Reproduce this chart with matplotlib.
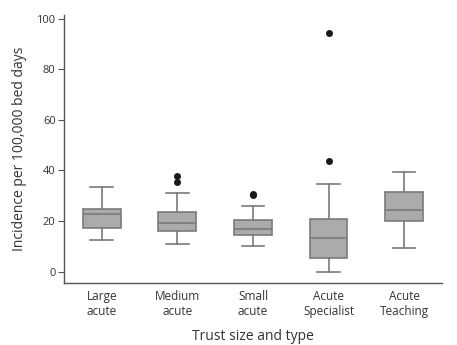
import matplotlib
matplotlib.use("Agg")
import matplotlib.pyplot as plt

categories = ["Large\nacute", "Medium\nacute", "Small\nacute", "Acute\nSpecialist", "Acute\nTeaching"]
whislo = [12.5, 10.8, 10.0, 0.0, 9.4]
q1 = [17.4, 16.1, 14.6, 5.5, 20.1]
med = [22.6, 19.1, 16.7, 13.2, 24.5]
q3 = [24.6, 23.4, 20.3, 20.7, 31.6]
whishi = [33.5, 31.1, 26.0, 34.7, 39.2]
fliers = [[], [37.9, 35.5], [30.8, 30.2], [94.5, 43.8], []]

plt.rcParams['font.family'] = ['Open Sans', 'DejaVu Sans']

fig = plt.figure(figsize=(4.57, 3.45), dpi=100)
ax = fig.add_axes([0.140, 0.180, 0.827, 0.777])

stats = []
for i in range(len(categories)):
    stats.append(dict(whislo=whislo[i], q1=q1[i], med=med[i], q3=q3[i],
                      whishi=whishi[i], fliers=fliers[i], label=categories[i]))

edge = '#7a7a7a'
ax.bxp(stats, positions=range(len(categories)), widths=0.5, patch_artist=True,
       boxprops=dict(facecolor='#ababab', edgecolor=edge, linewidth=1.2),
       medianprops=dict(color=edge, linewidth=1.2),
       whiskerprops=dict(color=edge, linewidth=1.2),
       capprops=dict(color=edge, linewidth=1.2),
       capwidths=0.3,
       flierprops=dict(marker='o', markerfacecolor='#1a1a1a', markeredgecolor='#1a1a1a',
                       markersize=4))

ax.set_xlim(-0.5, 4.5)
ax.set_ylim(-4.5, 101.5)
ax.set_yticks([0, 20, 40, 60, 80, 100])
ax.tick_params(axis='y', length=4, color='#555555', labelsize=8, labelcolor='#333333', pad=2)
ax.tick_params(axis='x', length=0, labelsize=8.5, labelcolor='#333333', pad=5)
for s in ['top', 'right']:
    ax.spines[s].set_visible(False)
for s in ['left', 'bottom']:
    ax.spines[s].set_color('#555555')
    ax.spines[s].set_linewidth(1.0)

ax.set_ylabel("Incidence per 100,000 bed days", fontsize=10, color='#333333', labelpad=7)
ax.set_xlabel("Trust size and type", fontsize=10, color='#333333', labelpad=8)

fig.savefig("out.png", dpi=100)
